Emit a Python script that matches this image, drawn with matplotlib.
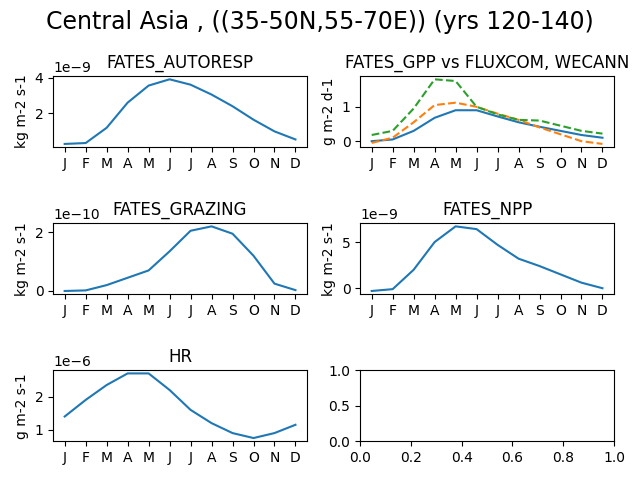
import matplotlib
matplotlib.use("Agg")
import matplotlib.pyplot as plt
import numpy as np

months = ["J","F","M","A","M","J","J","A","S","O","N","D"]
autoresp = np.array([0.3,0.35,1.2,2.6,3.55,3.9,3.6,3.05,2.4,1.65,1.0,0.55])*1e-9
gpp = [0.0,0.05,0.3,0.68,0.9,0.9,0.72,0.55,0.42,0.3,0.18,0.1]
fluxcom = [-0.05,0.1,0.55,1.05,1.12,1.0,0.8,0.62,0.4,0.2,0.0,-0.08]
wecann = [0.18,0.3,0.95,1.8,1.75,1.0,0.78,0.62,0.6,0.45,0.3,0.22]
grazing = np.array([0.0,0.02,0.2,0.45,0.7,1.35,2.05,2.2,1.95,1.2,0.25,0.03])*1e-10
npp = np.array([-0.3,-0.1,2.0,5.0,6.7,6.4,4.7,3.2,2.4,1.5,0.6,0.0])*1e-9
hr = np.array([1.4,1.9,2.35,2.7,2.7,2.2,1.6,1.2,0.9,0.75,0.9,1.15])*1e-6

x = np.arange(12)
fig, axs = plt.subplots(3, 2, figsize=(6.4, 4.8), dpi=100)
fig.suptitle("Central Asia , ((35-50N,55-70E)) (yrs 120-140)", fontsize=17)

def setup(ax, title, ylabel):
    ax.set_title(title)
    ax.set_ylabel(ylabel)
    ax.set_xticks(x)
    ax.set_xticklabels(months)

ax = axs[0,0]; ax.plot(x, autoresp); setup(ax, "FATES_AUTORESP", "kg m-2 s-1")
ax = axs[0,1]
ax.plot(x, gpp); ax.plot(x, fluxcom, "--"); ax.plot(x, wecann, "--")
setup(ax, "FATES_GPP vs FLUXCOM, WECANN", "g m-2 d-1")
ax = axs[1,0]; ax.plot(x, grazing); setup(ax, "FATES_GRAZING", "kg m-2 s-1")
ax = axs[1,1]; ax.plot(x, npp); setup(ax, "FATES_NPP", "kg m-2 s-1")
ax = axs[2,0]; ax.plot(x, hr); setup(ax, "HR", "g m-2 s-1")
fig.tight_layout()
fig.savefig("out.png")
